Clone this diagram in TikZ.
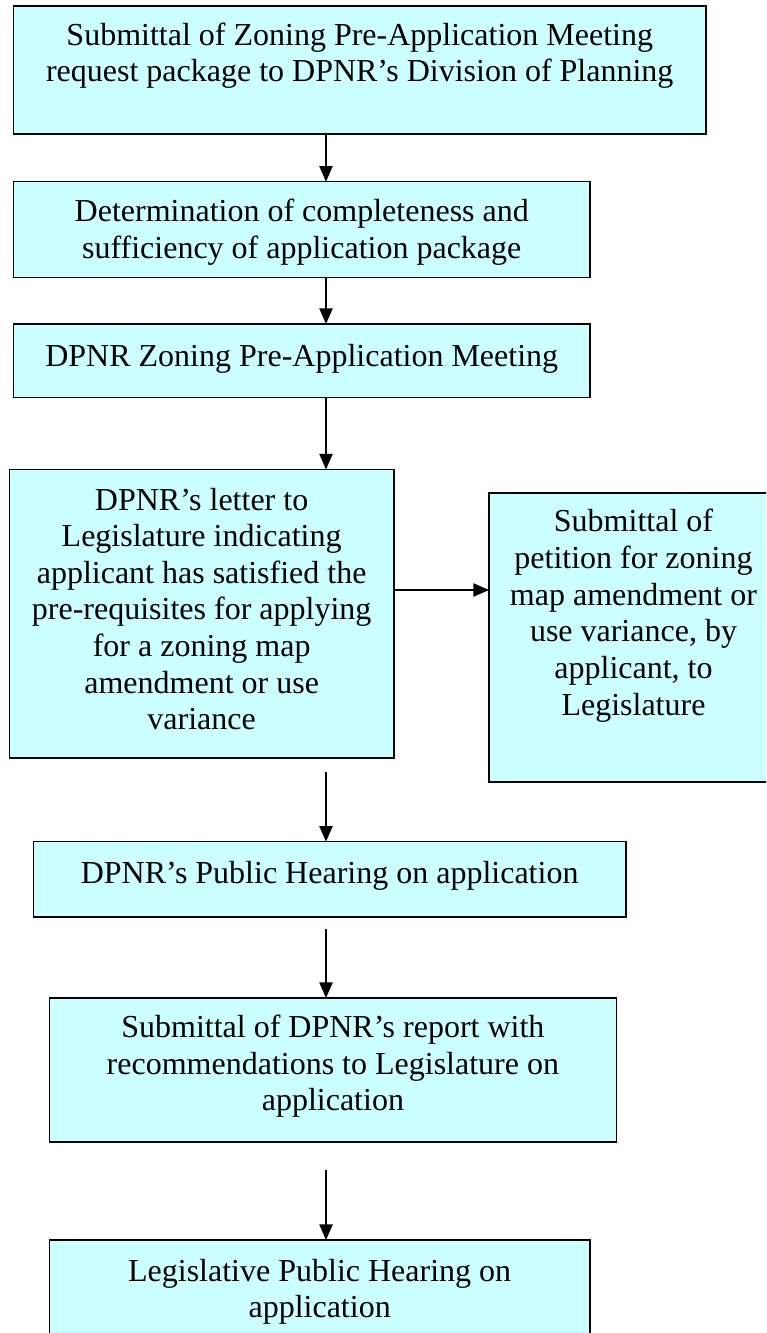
\documentclass[tikz,border=0pt]{standalone}
\usepackage{fontspec}
\setmainfont{Liberation Serif}
\usetikzlibrary{arrows.meta}
\definecolor{boxcyan}{HTML}{CCFFFF}
\newcommand{\bxt}[4]{\parbox[c][#2][t]{#1}{\centering\rule{0pt}{#3}#4\par}}
\begin{document}
\begin{tikzpicture}[x=0.5pt,y=-0.5pt,
  box/.style={draw=black, line width=0.7pt, fill=boxcyan, inner sep=0pt, outer sep=0pt,
              anchor=north west, font=\fontsize{16}{18.33}\selectfont},
  arr/.style={draw=black, line width=0.7pt, -{Triangle[length=7.8pt,width=6.6pt]}}]
\useasboundingbox (0,0) rectangle (766,1333);
\fill[white] (0,0) rectangle (766,1333);
\clip (0,0) rectangle (766,1333);

\node[box] (b1) at (13.5,6) {\bxt{346.25pt}{64pt}{19.5pt}{Submittal of Zoning Pre-Application Meeting\\request package to DPNR’s Division of Planning}};
\node[box] (b2) at (13.5,181.7) {\bxt{288.25pt}{48pt}{20pt}{Determination of completeness and\\sufficiency of application package}};
\node[box] (b3) at (13.5,324) {\bxt{288.25pt}{36.75pt}{21pt}{DPNR Zoning Pre-Application Meeting}};
\node[box] (b4) at (9.3,469.5) {\bxt{192.35pt}{144.25pt}{20.25pt}{DPNR’s letter to\\Legislature indicating\\applicant has satisfied the\\pre-requisites for applying\\for a zoning map\\amendment or use\\variance}};
\node[box] (b5) at (489,493) {\bxt{144.5pt}{144.5pt}{19.4pt}{Submittal of\\petition for zoning\\map amendment or\\use variance, by\\applicant, to\\Legislature}};
\node[box] (b6) at (33.3,841.7) {\bxt{296.35pt}{37.65pt}{21pt}{DPNR’s Public Hearing on application}};
\node[box] (b7) at (49.3,998) {\bxt{283.6pt}{72pt}{19.75pt}{Submittal of DPNR’s report with\\recommendations to Legislature on\\application}};
\node[box] (b8) at (49.3,1240) {\bxt{270.35pt}{52.5pt}{20.5pt}{Legislative Public Hearing on\\application}};

\coordinate (ax) at (326,0);
\coordinate (hy) at (0,590);

\draw[arr] (b1.south -| ax) -- (b2.north -| ax);
\draw[arr] (b2.south -| ax) -- (b3.north -| ax);
\draw[arr] (b3.south -| ax) -- (b4.north -| ax);
\draw[arr] (b4.east |- hy) -- (b5.west |- hy);
\draw[arr, shorten <=6.85pt] (b4.south -| ax) -- (b6.north -| ax);
\draw[arr, shorten <=6pt] (b6.south -| ax) -- (b7.north -| ax);
\draw[arr, shorten <=14pt] (b7.south -| ax) -- (b8.north -| ax);
\end{tikzpicture}
\end{document}
